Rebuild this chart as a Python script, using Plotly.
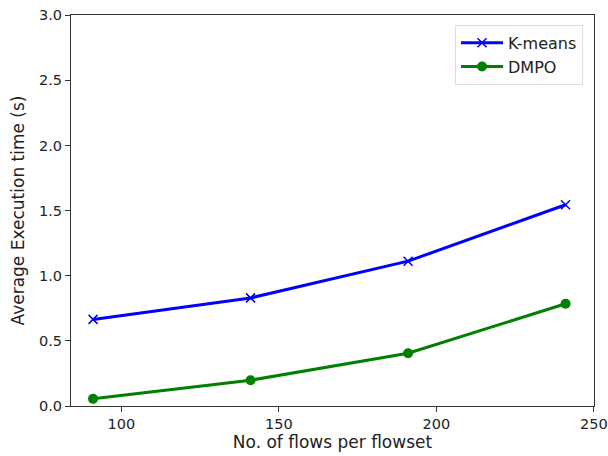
import plotly.graph_objects as go

flows = [91, 141, 191, 241]
kmeans = [0.665, 0.83, 1.112, 1.545]
dmpo = [0.055, 0.198, 0.405, 0.785]
x_ticks = [100, 150, 200, 250]
y_ticks = [0.0, 0.5, 1.0, 1.5, 2.0, 2.5, 3.0]

fig = go.Figure()
fig.add_trace(go.Scatter(x=flows, y=kmeans, mode="lines+markers", name="K-means",
                         line=dict(color="blue", width=3),
                         marker=dict(symbol="x-thin", size=9, line=dict(color="blue", width=1.5))))
fig.add_trace(go.Scatter(x=flows, y=dmpo, mode="lines+markers", name="DMPO",
                         line=dict(color="green", width=3),
                         marker=dict(symbol="circle", size=10, color="green")))

axis_common = dict(showgrid=False, zeroline=False, showline=True, linecolor="#333333",
                   linewidth=1, mirror=True, ticks="outside", ticklen=5, tickcolor="#333333",
                   automargin=False,
                   tickfont=dict(family="DejaVu Sans", size=14.5, color="#222222"))

fig.update_layout(
    width=608, height=456,
    margin=dict(l=71, r=14, t=15, b=50),
    paper_bgcolor="white", plot_bgcolor="white",
    font=dict(family="DejaVu Sans", size=14.5, color="#222222"),
    xaxis=dict(range=[84, 250.02], tickvals=x_ticks, ticktext=[str(v) for v in x_ticks],
               title=dict(text="No. of flows per flowset", standoff=4), **axis_common),
    yaxis=dict(range=[0, 3.002], tickvals=y_ticks, ticktext=[f"{v:.1f}" for v in y_ticks],
               title=dict(text="Average Execution time (s)", standoff=10), **axis_common),
    legend=dict(x=0.979, y=0.975, xanchor="right", yanchor="top",
                bgcolor="white", bordercolor="#dddddd", borderwidth=1,
                font=dict(family="DejaVu Sans", size=16), itemwidth=42, tracegroupgap=4),
    showlegend=True,
)

fig.write_html("out.html")
